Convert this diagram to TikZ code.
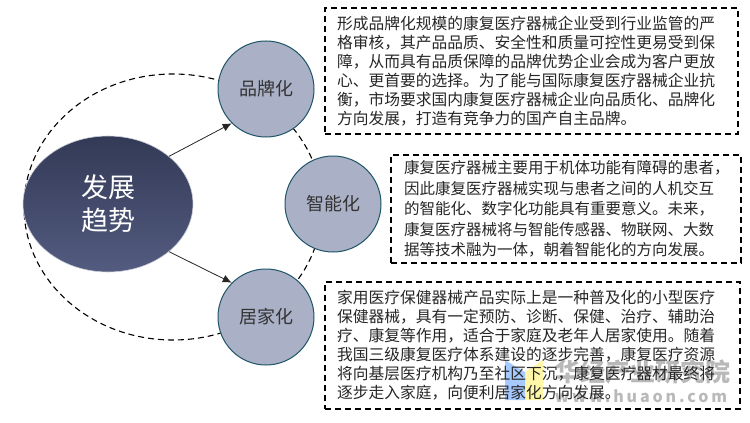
\documentclass[tikz,border=0pt]{standalone}
\usepackage{fontspec}
\setmainfont{Noto Sans CJK SC}
\usetikzlibrary{arrows.meta,shapes.geometric}
\definecolor{bubble}{HTML}{AAB0C6}
\definecolor{bubbleline}{HTML}{1F5568}
\definecolor{coretop}{HTML}{333A56}
\definecolor{corebot}{HTML}{535B80}
\definecolor{markgray}{HTML}{B9B9B9}
\tikzset{
  topic/.style={circle,draw=bubbleline,line width=1pt,fill=bubble,minimum size=96pt,inner sep=0pt,text=black!80,font=\fontsize{18}{20}\selectfont},
  note/.style={draw=black,line width=1.2pt,dash pattern=on 6pt off 4pt,fill=none,inner ysep=0pt,inner xsep=12pt,align=left,text=black!85,font=\fontsize{15.75}{19}\selectfont},
  link/.style={black!85,line width=0.8pt,-{Latex[length=9pt,width=8pt]}}
}
\begin{document}
\begin{tikzpicture}[x=1pt,y=-1pt]
\useasboundingbox (0,0) rectangle (750,423);

\node[ellipse,draw=black,line width=1.1pt,dash pattern=on 6pt off 4pt,minimum width=298pt,minimum height=266pt,inner sep=0pt] (trend) at (173,207) {};

\node[ellipse,top color=coretop,bottom color=corebot,draw=white!70!corebot,line width=0.6pt,minimum width=170pt,minimum height=136pt,inner sep=0pt,text=white,align=center,font=\fontsize{27}{33}\selectfont] (core) at (108,204) {发展\\趋势};

\node[topic] (brand) at (266,89) {品牌化};
\node[topic] (smart) at (333,204) {智能化};
\node[topic] (home) at (266,317) {居家化};

\draw[link] (core.38) -- (brand.225);
\draw[link] (core.-38) -- (home.135);

\node[note,text width=389pt,minimum height=126pt] (brandnote) at (531.5,71) {形成品牌化规模的康复医疗器械企业受到行业监管的严\\
格审核，其产品品质、安全性和质量可控性更易受到保\\
障，从而具有品质保障的品牌优势企业会成为客户更放\\
心、更首要的选择。为了能与国际康复医疗器械企业抗\\
衡，市场要求国内康复医疗器械企业向品质化、品牌化\\
方向发展，打造有竞争力的国产自主品牌。};

\node[note,inner xsep=13pt,text width=324pt,minimum height=108pt,font=\fontsize{15.5}{20.5}\selectfont] (smartnote) at (566,209) {康复医疗器械主要用于机体功能有障碍的患者，\\
因此康复医疗器械实现与患者之间的人机交互\\
的智能化、数字化功能具有重要意义。未来，\\
康复医疗器械将与智能传感器、物联网、大数\\
据等技术融为一体，朝着智能化的方向发展。};

\fill[blue!60!cyan,opacity=0.35] (505,360) -- (525,372) -- (525,400) -- (505,400) -- cycle;
\fill[yellow!90!orange,opacity=0.35] (525,372) -- (543,360) -- (543,400) -- (525,400) -- cycle;
\node[text=markgray,font=\bfseries\fontsize{25}{25}\selectfont] (markname) at (643,372) {华经产业研究院};
\node[text=markgray,font=\bfseries\fontsize{16}{16}\selectfont\addfontfeature{LetterSpace=18}] (markweb) at (641,396) {www.huaon.com};

\node[note,text width=391pt,minimum height=127pt] (homenote) at (532.5,345.5) {家用医疗保健器械产品实际上是一种普及化的小型医疗\\
保健器械，具有一定预防、诊断、保健、治疗、辅助治\\
疗、康复等作用，适合于家庭及老年人居家使用。随着\\
我国三级康复医疗体系建设的逐步完善，康复医疗资源\\
将向基层医疗机构乃至社区下沉，康复医疗器材最终将\\
逐步走入家庭，向便利居家化方向发展。};
\end{tikzpicture}
\end{document}
